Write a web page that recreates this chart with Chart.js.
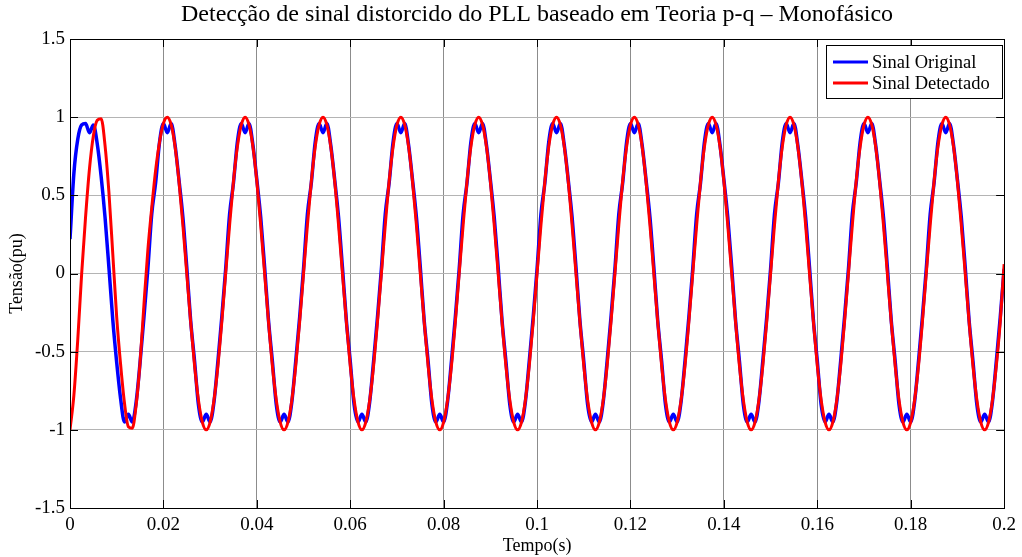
<!DOCTYPE html>
<html>
<head>
<meta charset="utf-8">
<script src="https://cdn.jsdelivr.net/npm/chart.js@4.4.0/dist/chart.umd.min.js"></script>
<style>
  html, body { margin: 0; padding: 0; background: #fff; }
  canvas { display: block; }
</style>
</head>
<body>
<canvas id="pllChart" width="1022" height="557"></canvas>
<script>
// tempo das amostras (ms)
const tempoMs = [
  0, 0.83, 1.67, 2.5, 3.33, 4.17, 5, 5.83, 6.67, 7.5, 8.33, 9.17,
  10, 10.83, 11.67, 12.5, 13.33, 14.17, 15, 15.83, 16.67, 17.5, 18.33, 19.17,
  20, 20.83, 21.67, 22.5, 23.33, 24.17, 25, 25.83, 26.67, 27.5, 28.33, 29.17,
  30, 30.83, 31.67, 32.5, 33.33, 34.17, 35, 35.83, 36.67, 37.5, 38.33, 39.17,
  40, 40.83, 41.67, 42.5, 43.33, 44.17, 45, 45.83, 46.67, 47.5, 48.33, 49.17,
  50, 50.83, 51.67, 52.5, 53.33, 54.17, 55, 55.83, 56.67, 57.5, 58.33, 59.17,
  60, 60.83, 61.67, 62.5, 63.33, 64.17, 65, 65.83, 66.67, 67.5, 68.33, 69.17,
  70, 70.83, 71.67, 72.5, 73.33, 74.17, 75, 75.83, 76.67, 77.5, 78.33, 79.17,
  80, 80.83, 81.67, 82.5, 83.33, 84.17, 85, 85.83, 86.67, 87.5, 88.33, 89.17,
  90, 90.83, 91.67, 92.5, 93.33, 94.17, 95, 95.83, 96.67, 97.5, 98.33, 99.17,
  100, 100.83, 101.67, 102.5, 103.33, 104.17, 105, 105.83, 106.67, 107.5, 108.33, 109.17,
  110, 110.83, 111.67, 112.5, 113.33, 114.17, 115, 115.83, 116.67, 117.5, 118.33, 119.17,
  120, 120.83, 121.67, 122.5, 123.33, 124.17, 125, 125.83, 126.67, 127.5, 128.33, 129.17,
  130, 130.83, 131.67, 132.5, 133.33, 134.17, 135, 135.83, 136.67, 137.5, 138.33, 139.17,
  140, 140.83, 141.67, 142.5, 143.33, 144.17, 145, 145.83, 146.67, 147.5, 148.33, 149.17,
  150, 150.83, 151.67, 152.5, 153.33, 154.17, 155, 155.83, 156.67, 157.5, 158.33, 159.17,
  160, 160.83, 161.67, 162.5, 163.33, 164.17, 165, 165.83, 166.67, 167.5, 168.33, 169.17,
  170, 170.83, 171.67, 172.5, 173.33, 174.17, 175, 175.83, 176.67, 177.5, 178.33, 179.17,
  180, 180.83, 181.67, 182.5, 183.33, 184.17, 185, 185.83, 186.67, 187.5, 188.33, 189.17,
  190, 190.83, 191.67, 192.5, 193.33, 194.17, 195, 195.83, 196.67, 197.5, 198.33, 199.17,
  200
];

// sinal original (pu) - um ciclo por linha
const sinalOriginal = [
  0.22, 0.64, 0.86, 0.95, 0.96, 0.90, 0.95, 0.83, 0.62, 0.36, 0.04, -0.3, -0.57, -0.8, -0.95, -0.90, -0.95, -0.82, -0.57, -0.28,
  0.03, 0.38, 0.58, 0.84, 0.96, 0.90, 0.96, 0.82, 0.6, 0.36, 0.04, -0.3, -0.56, -0.84, -0.95, -0.90, -0.95, -0.82, -0.56, -0.28,
  0.03, 0.38, 0.58, 0.84, 0.96, 0.90, 0.96, 0.82, 0.6, 0.36, 0.04, -0.3, -0.56, -0.84, -0.95, -0.90, -0.95, -0.82, -0.56, -0.28,
  0.03, 0.38, 0.58, 0.84, 0.96, 0.90, 0.96, 0.82, 0.6, 0.36, 0.04, -0.3, -0.56, -0.84, -0.95, -0.90, -0.95, -0.82, -0.56, -0.28,
  0.03, 0.38, 0.58, 0.84, 0.96, 0.90, 0.96, 0.82, 0.6, 0.36, 0.04, -0.3, -0.56, -0.84, -0.95, -0.90, -0.95, -0.82, -0.56, -0.28,
  0.03, 0.38, 0.58, 0.84, 0.96, 0.90, 0.96, 0.82, 0.6, 0.36, 0.04, -0.3, -0.56, -0.84, -0.95, -0.90, -0.95, -0.82, -0.56, -0.28,
  0.03, 0.38, 0.58, 0.84, 0.96, 0.90, 0.96, 0.82, 0.6, 0.36, 0.04, -0.3, -0.56, -0.84, -0.95, -0.90, -0.95, -0.82, -0.56, -0.28,
  0.03, 0.38, 0.58, 0.84, 0.96, 0.90, 0.96, 0.82, 0.6, 0.36, 0.04, -0.3, -0.56, -0.84, -0.95, -0.90, -0.95, -0.82, -0.56, -0.28,
  0.03, 0.38, 0.58, 0.84, 0.96, 0.90, 0.96, 0.82, 0.6, 0.36, 0.04, -0.3, -0.56, -0.84, -0.95, -0.90, -0.95, -0.82, -0.56, -0.28,
  0.03, 0.38, 0.58, 0.84, 0.96, 0.90, 0.96, 0.82, 0.6, 0.36, 0.04, -0.3, -0.56, -0.84, -0.95, -0.90, -0.95, -0.82, -0.56, -0.28,
  0.03, 0.38, 0.58, 0.84, 0.96, 0.90, 0.96, 0.82, 0.6, 0.36, 0.04, -0.3, -0.56, -0.84, -0.95, -0.90, -0.95, -0.82, -0.56, -0.28,
  0.03, 0.38, 0.58, 0.84, 0.96, 0.90, 0.96, 0.82, 0.6, 0.36, 0.04, -0.3, -0.56, -0.84, -0.95, -0.90, -0.95, -0.82, -0.56, -0.28,
  0.03
];

// sinal detectado pelo PLL (pu)
const sinalDetectado = [
  -1, -0.78, -0.42, 0, 0.36, 0.67, 0.88, 0.98, 0.99, 0.82, 0.52, 0.12, -0.28, -0.58, -0.83, -0.98, -0.99, -0.84, -0.57, -0.2,
  0.15, 0.42, 0.66, 0.84, 0.96, 1, 0.95, 0.81, 0.59, 0.31, 0, -0.31, -0.59, -0.81, -0.95, -1, -0.95, -0.81, -0.59, -0.31,
  0, 0.31, 0.59, 0.81, 0.95, 1, 0.95, 0.81, 0.59, 0.31, 0, -0.31, -0.59, -0.81, -0.95, -1, -0.95, -0.81, -0.59, -0.31,
  0, 0.31, 0.59, 0.81, 0.95, 1, 0.95, 0.81, 0.59, 0.31, 0, -0.31, -0.59, -0.81, -0.95, -1, -0.95, -0.81, -0.59, -0.31,
  0, 0.31, 0.59, 0.81, 0.95, 1, 0.95, 0.81, 0.59, 0.31, 0, -0.31, -0.59, -0.81, -0.95, -1, -0.95, -0.81, -0.59, -0.31,
  0, 0.31, 0.59, 0.81, 0.95, 1, 0.95, 0.81, 0.59, 0.31, 0, -0.31, -0.59, -0.81, -0.95, -1, -0.95, -0.81, -0.59, -0.31,
  0, 0.31, 0.59, 0.81, 0.95, 1, 0.95, 0.81, 0.59, 0.31, 0, -0.31, -0.59, -0.81, -0.95, -1, -0.95, -0.81, -0.59, -0.31,
  0, 0.31, 0.59, 0.81, 0.95, 1, 0.95, 0.81, 0.59, 0.31, 0, -0.31, -0.59, -0.81, -0.95, -1, -0.95, -0.81, -0.59, -0.31,
  0, 0.31, 0.59, 0.81, 0.95, 1, 0.95, 0.81, 0.59, 0.31, 0, -0.31, -0.59, -0.81, -0.95, -1, -0.95, -0.81, -0.59, -0.31,
  0, 0.31, 0.59, 0.81, 0.95, 1, 0.95, 0.81, 0.59, 0.31, 0, -0.31, -0.59, -0.81, -0.95, -1, -0.95, -0.81, -0.59, -0.31,
  0, 0.31, 0.59, 0.81, 0.95, 1, 0.95, 0.81, 0.59, 0.31, 0, -0.31, -0.59, -0.81, -0.95, -1, -0.95, -0.81, -0.59, -0.31,
  0, 0.31, 0.59, 0.81, 0.95, 1, 0.95, 0.81, 0.59, 0.31, 0, -0.31, -0.59, -0.81, -0.95, -1, -0.95, -0.81, -0.59, -0.31,
  0.06
];

const xTickLabels = ['0', '0.02', '0.04', '0.06', '0.08', '0.1', '0.12', '0.14', '0.16', '0.18', '0.2'];
const yTickLabels = ['-1.5', '-1', '-0.5', '0', '0.5', '1', '1.5'];

const serif = "'Liberation Serif', 'Times New Roman', serif";

function toPoints(values) {
  return tempoMs.map((t, i) => ({ x: t / 1000, y: values[i] }));
}

// caixa do eixo, marcas internas e legenda no estilo MATLAB
const matlabBox = {
  id: 'matlabBox',
  afterDraw(chart) {
    const ctx = chart.ctx;
    const a = chart.chartArea;
    const xs = chart.scales.x;
    const ys = chart.scales.y;
    ctx.save();
    ctx.strokeStyle = '#000';
    ctx.lineWidth = 1;
    ctx.beginPath();
    xs.ticks.forEach(tk => {
      const px = Math.round(xs.getPixelForValue(tk.value)) + 0.5;
      ctx.moveTo(px, a.bottom); ctx.lineTo(px, a.bottom - 8);
      ctx.moveTo(px, a.top); ctx.lineTo(px, a.top + 8);
    });
    ys.ticks.forEach(tk => {
      const py = Math.round(ys.getPixelForValue(tk.value)) + 0.5;
      ctx.moveTo(a.left, py); ctx.lineTo(a.left + 8, py);
      ctx.moveTo(a.right, py); ctx.lineTo(a.right - 8, py);
    });
    ctx.stroke();
    ctx.strokeRect(Math.round(a.left) + 0.5, Math.round(a.top) + 0.5,
      Math.round(a.right - a.left), Math.round(a.bottom - a.top));

    // legenda
    const lx = 826, ly = 45, lw = 176, lh = 53;
    ctx.fillStyle = '#fff';
    ctx.fillRect(lx, ly, lw, lh);
    ctx.strokeRect(lx + 0.5, ly + 0.5, lw, lh);
    ctx.font = '18.5px ' + serif;
    ctx.textBaseline = 'middle';
    chart.data.datasets.forEach((ds, i) => {
      const yy = ly + 17 + i * 21;
      ctx.strokeStyle = ds.borderColor;
      ctx.lineWidth = 3;
      ctx.beginPath();
      ctx.moveTo(lx + 7, yy);
      ctx.lineTo(lx + 42, yy);
      ctx.stroke();
      ctx.fillStyle = '#000';
      ctx.fillText(ds.label, lx + 46, yy + 1);
    });
    ctx.restore();
  }
};

const ctx = document.getElementById('pllChart').getContext('2d');
const pllChart = new Chart(ctx, {
  type: 'line',
  data: {
    datasets: [{
      label: 'Sinal Original',
      data: toPoints(sinalOriginal),
      borderColor: '#0000ff',
      borderWidth: 3.5,
      pointRadius: 0,
      cubicInterpolationMode: 'monotone',
      fill: false,
      order: 2,
    },
    {
      label: 'Sinal Detectado',
      data: toPoints(sinalDetectado),
      borderColor: '#ff0000',
      borderWidth: 3,
      pointRadius: 0,
      cubicInterpolationMode: 'monotone',
      fill: false,
      order: 1,
    }],
  },
  options: {
    responsive: false,
    animation: false,
    devicePixelRatio: 1,
    layout: { padding: { top: 0, right: 16, bottom: 0, left: 0 } },
    plugins: {
      legend: { display: false },
      tooltip: { enabled: false },
      title: {
        display: true,
        fullSize: false,
        text: 'Detecção de sinal distorcido do PLL baseado em Teoria p-q – Monofásico',
        color: '#000',
        font: { family: serif, size: 24, weight: 'normal' },
        padding: { top: 0, bottom: 10.2 },
      },
    },
    scales: {
      x: {
        type: 'linear',
        min: 0,
        max: 0.2,
        afterFit: function (scale) { scale.height = 49; },
        grid: { color: '#8c8c8c', lineWidth: 1, drawTicks: false },
        border: { display: true, color: '#000', width: 1 },
        ticks: {
          stepSize: 0.02,
          color: '#000',
          padding: 6,
          maxRotation: 0,
          font: { family: serif, size: 19 },
          callback: function (val, index) { return xTickLabels[index]; },
        },
        title: {
          display: true,
          text: 'Tempo(s)',
          color: '#000',
          font: { family: serif, size: 18 },
          padding: { top: 0, bottom: 0 },
        },
      },
      y: {
        min: -1.5,
        max: 1.5,
        afterFit: function (scale) { scale.width = 70; },
        grid: { color: '#b4b4b4', lineWidth: 1, drawTicks: false },
        border: { display: true, color: '#000', width: 1 },
        ticks: {
          stepSize: 0.5,
          color: '#000',
          padding: 5,
          font: { family: serif, size: 19 },
          callback: function (val, index) { return yTickLabels[index]; },
        },
        title: {
          display: true,
          text: 'Tensão(pu)',
          color: '#000',
          font: { family: serif, size: 18 },
          padding: { top: 6, bottom: 0 },
        },
      },
    },
  },
  plugins: [matlabBox],
});
</script>
</body>
</html>
